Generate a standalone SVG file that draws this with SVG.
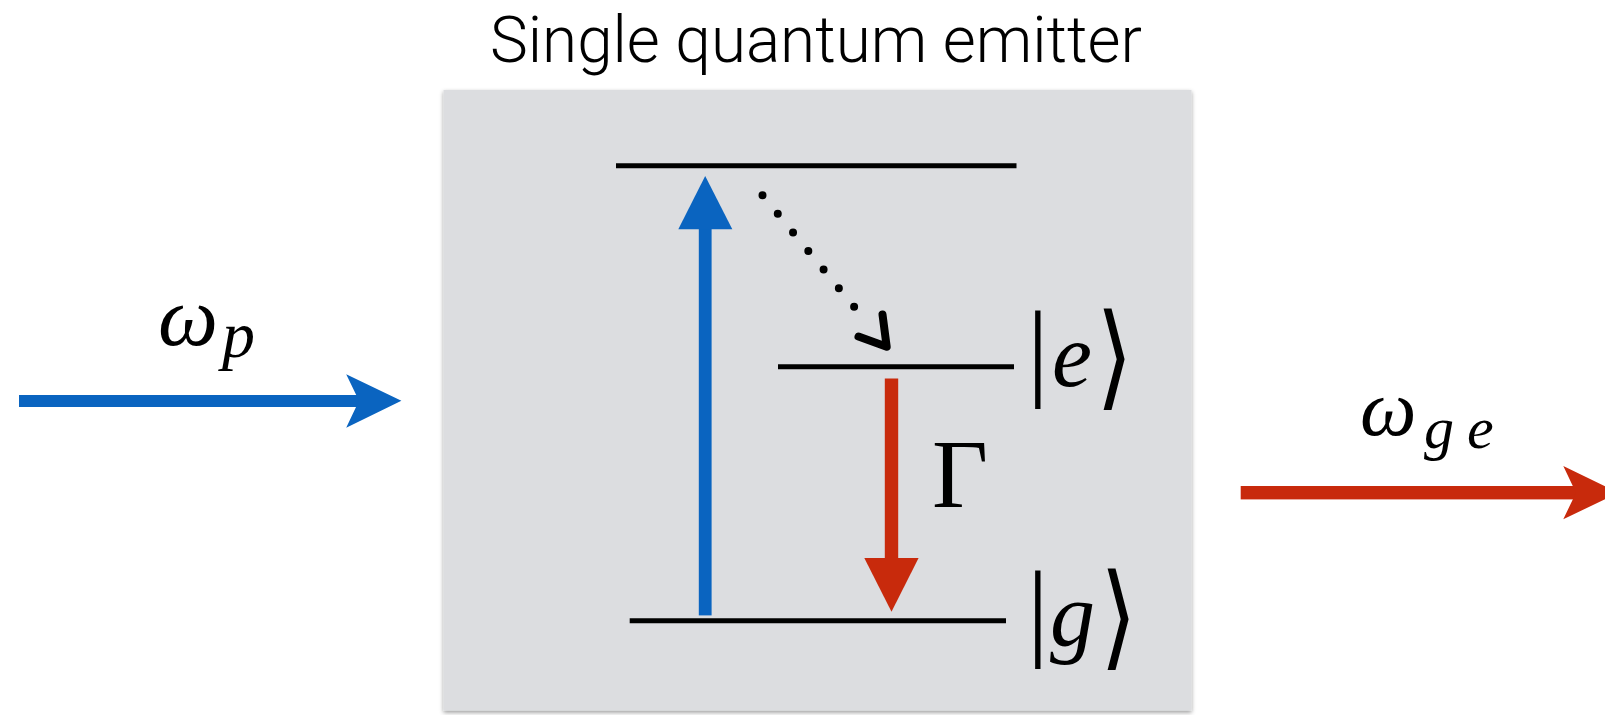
<svg xmlns="http://www.w3.org/2000/svg" width="1605" height="715" viewBox="0 0 1605 715">
  <defs>
    <filter id="shadow" x="-5%" y="-5%" width="110%" height="110%">
      <feDropShadow dx="0" dy="2" stdDeviation="2.2" flood-color="#000" flood-opacity="0.4"/>
    </filter>
    <style>
      .title { font-family: "Roboto", "Liberation Sans", Arial, sans-serif; font-weight: 300; font-size: 64px; fill: #000; }
      .math { font-family: "Liberation Serif", "DejaVu Serif", serif; fill: #000; }
      .it { font-style: italic; }
      .bra { font-family: "DejaVu Sans", sans-serif; font-size: 95px; fill: #000; }
      .level { stroke: #000; stroke-width: 5; }
      .blue { fill: #0a64c0; }
      .red { fill: #c82a0c; }
    </style>
  </defs>
  <rect width="1605" height="715" fill="#fff"/>

  <text class="title" x="490" y="62" textLength="652" lengthAdjust="spacingAndGlyphs">Single quantum emitter</text>

  <g id="emitter">
    <rect x="443.5" y="90" width="748" height="620.5" fill="#dcdde0" filter="url(#shadow)"/>
  </g>

  <g id="levels">
    <line id="level-top" class="level" x1="616" y1="165.8" x2="1016.5" y2="165.8"/>
    <line id="level-e" class="level" x1="778" y1="366.8" x2="1014" y2="366.8"/>
    <line id="level-g" class="level" x1="629.7" y1="620.7" x2="1006" y2="620.7"/>
  </g>

  <g id="labels">
    <g id="label-e">
      <text class="math" y="386"><tspan x="1027" font-size="108">|</tspan><tspan x="1052" class="it" font-size="90">e</tspan></text>
      <text class="bra" transform="translate(1096,395) scale(1,1.2)">⟩</text>
    </g>
    <g id="label-g">
      <text class="math" y="646"><tspan x="1027" font-size="108">|</tspan><tspan x="1050" class="it" font-size="90">g</tspan></text>
      <text class="bra" transform="translate(1100,655) scale(1,1.2)">⟩</text>
    </g>
    <text id="label-gamma" class="math" x="932" y="507" font-size="97">Γ</text>
    <text id="label-wp" class="math it" y="345"><tspan x="158" font-size="85">ω</tspan><tspan x="222" y="357" font-size="66">p</tspan></text>
    <text id="label-wge" class="math it" y="435"><tspan x="1360" font-size="80">ω</tspan><tspan x="1424" y="448" font-size="60">g</tspan><tspan x="1467" y="448" font-size="60">e</tspan></text>
  </g>

  <g id="connectors">
    <!-- pump arrow in -->
    <rect class="blue" x="19" y="395" width="343" height="12"/>
    <polygon class="blue" points="346.2,374.3 401.4,400.8 346.2,427.7 359,400.8"/>
    <!-- excitation arrow -->
    <rect class="blue" x="698.8" y="228" width="12.8" height="387.4"/>
    <polygon class="blue" points="678.3,229.3 705.2,176 732.3,229.3"/>
    <!-- non-radiative decay (dotted) -->
    <line x1="762.5" y1="195.2" x2="855" y2="307.9" stroke="#000" stroke-width="8" stroke-linecap="round" stroke-dasharray="0 24.07"/>
    <polyline points="882.5,314.5 886.7,346.7 858.5,336.5" fill="none" stroke="#000" stroke-width="8" stroke-linejoin="round" stroke-linecap="round"/>
    <!-- emission arrow -->
    <rect class="red" x="884.8" y="378.5" width="13.4" height="181"/>
    <polygon class="red" points="864.3,558 918.6,558 891.5,611.8"/>
    <!-- emitted light out -->
    <rect class="red" x="1240.7" y="486" width="338" height="13.4"/>
    <polygon class="red" points="1563.3,466 1618.5,492.7 1563.3,519.3 1576,492.7"/>
  </g>
</svg>
